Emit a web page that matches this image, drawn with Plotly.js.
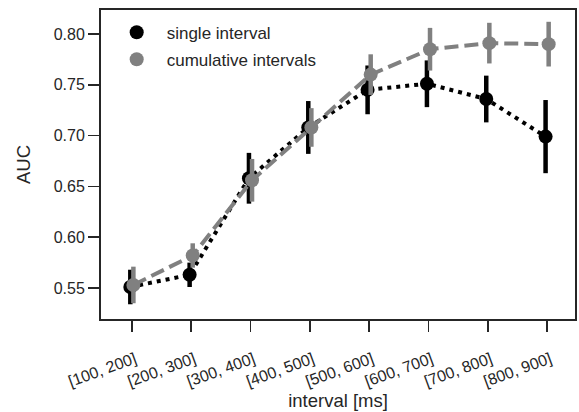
<!DOCTYPE html>
<html>
<head>
<meta charset="utf-8">
<script src="https://cdn.plot.ly/plotly-3.0.1.min.js"></script>
<style>html,body{margin:0;padding:0;background:#fff;}#chart{width:579px;height:412px;}</style>
</head>
<body>
<div id="chart"></div>
<script>
const categories = ["[100, 200]","[200, 300]","[300, 400]","[400, 500]","[500, 600]","[600, 700]","[700, 800]","[800, 900]"];
const singleAUC = [0.551, 0.563, 0.658, 0.708, 0.745, 0.751, 0.736, 0.699];
const singleErr = [0.017, 0.012, 0.025, 0.026, 0.024, 0.023, 0.023, 0.036];
const cumAUC = [0.553, 0.582, 0.656, 0.708, 0.760, 0.785, 0.791, 0.790];
const cumErr = [0.018, 0.012, 0.021, 0.019, 0.020, 0.021, 0.020, 0.022];

const dodge = 0.026;
const idx = categories.map((c,i)=>i);
const textColor = '#262626';
const fontFam = '"Liberation Sans", Arial, Helvetica, sans-serif';

function series(name, xs, ys, errs, color, dash, group) {
  return [
    {x: xs, y: ys, type:'scatter', mode:'lines', showlegend:false, hoverinfo:'skip',
     line:{color:color, width:4, dash:dash}},
    {x: xs, y: ys, name: name, type:'scatter', mode:'markers', legendgroup:group,
     marker:{color:color, size:14, line:{width:0}},
     error_y:{type:'data', array: errs, visible:true, color:color, thickness:4.5, width:0}}
  ];
}

const traces = [].concat(
  series('single interval', idx.map(i=>i-dodge), singleAUC, singleErr, '#000000', '4px,5px', 'a'),
  series('cumulative intervals', idx.map(i=>i+dodge), cumAUC, cumErr, '#808080', '14px,6px', 'b')
);

const layout = {
  width:579, height:412,
  margin:{l:101, r:4, t:10, b:93},
  paper_bgcolor:'#ffffff', plot_bgcolor:'#ffffff',
  font:{family:fontFam, size:16, color:textColor},
  showlegend:true,
  legend:{x:0.012, y:0.985, xanchor:'left', yanchor:'top', bgcolor:'rgba(0,0,0,0)',
          font:{size:17, color:textColor}, itemsizing:'trace', itemwidth:50, tracegroupgap:2},
  xaxis:{
    range:[-0.52, 7.47], tickmode:'array', tickvals: idx, ticktext: categories,
    tickangle:-20, ticks:'outside', ticklen:11, tickwidth:1.8, tickcolor:textColor,
    ticklabelstandoff:12, ticklabelshift:3,
    showline:true, mirror:true, linecolor:textColor, linewidth:2,
    showgrid:false, zeroline:false, automargin:false,
    tickfont:{size:16, color:textColor},
    title:{text:'interval [ms]', font:{size:18.5, color:textColor}, standoff:1}
  },
  yaxis:{
    range:[0.5195, 0.8236], tickmode:'array', tickvals:[0.55,0.60,0.65,0.70,0.75,0.80], ticktext:['0.55','0.60','0.65','0.70','0.75','0.80'],
    ticks:'outside', ticklen:11, tickwidth:1.8, tickcolor:textColor,
    showline:true, mirror:true, linecolor:textColor, linewidth:2,
    showgrid:false, zeroline:false, automargin:false,
    tickfont:{size:16, color:textColor},
    title:{text:'AUC', font:{size:18.5, color:textColor}, standoff:18}
  }
};

Plotly.newPlot('chart', traces, layout, {staticPlot:true, displayModeBar:false});
</script>
</body>
</html>
